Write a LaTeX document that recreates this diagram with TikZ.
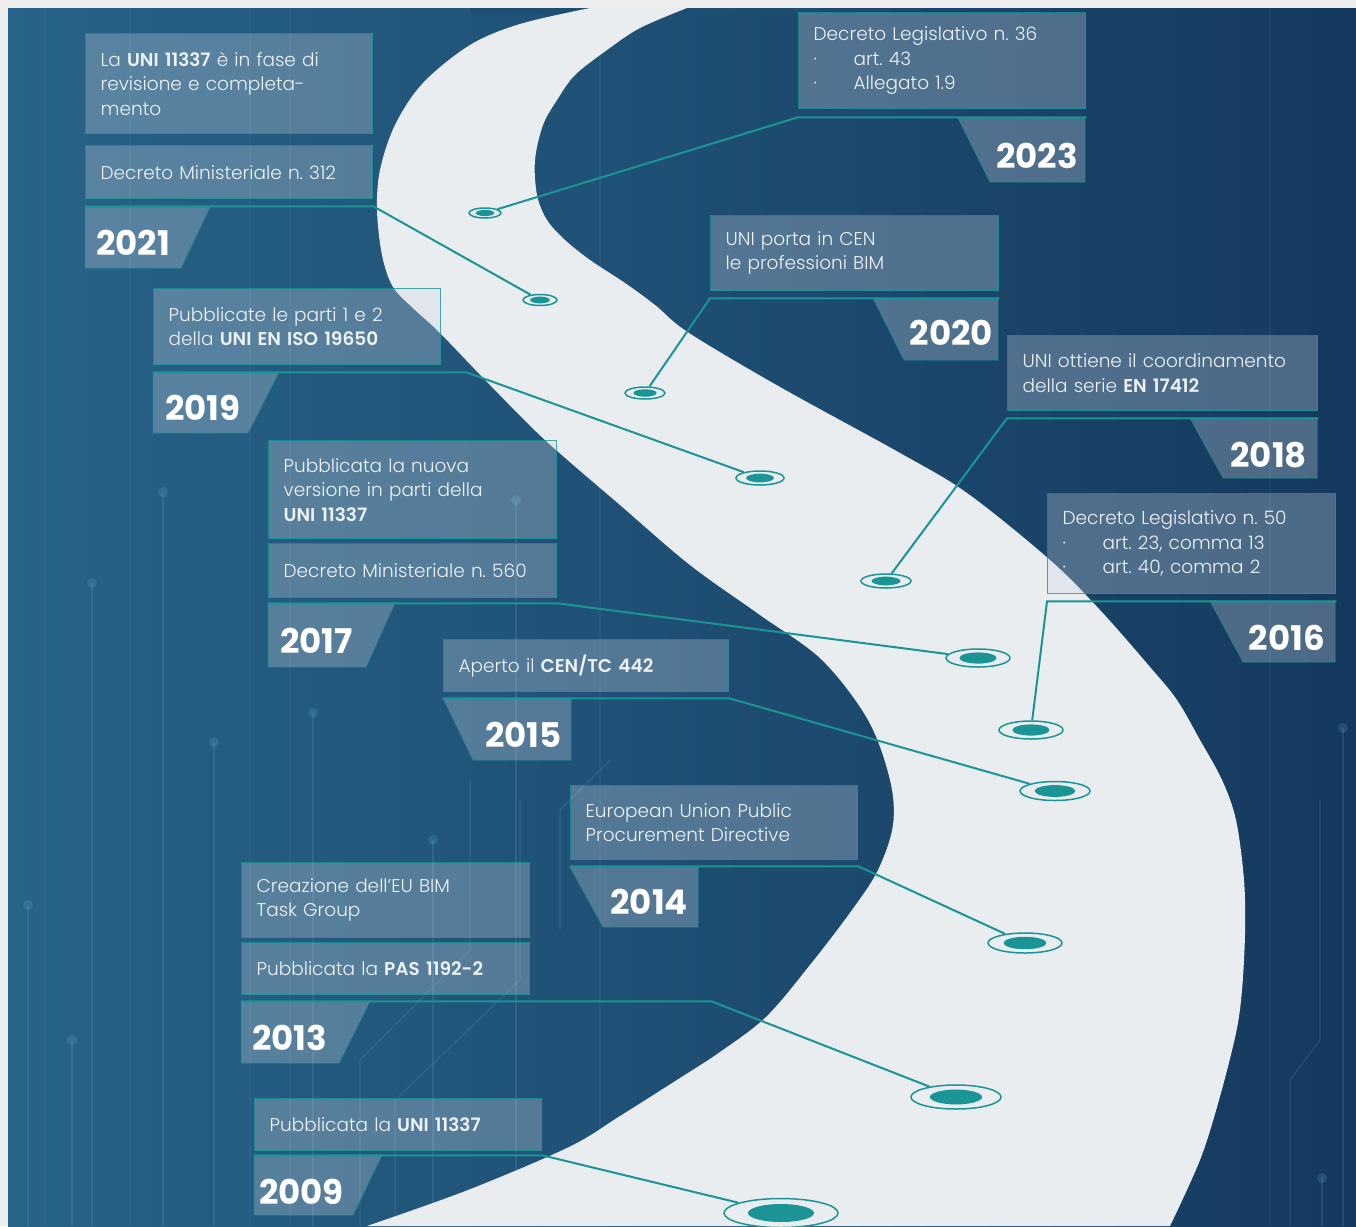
\documentclass[tikz,border=0pt]{standalone}
\usepackage{fontspec}
\setmainfont{Poppins}[UprightFont=* Light, BoldFont=* SemiBold]
\newfontfamily\yrfamily{Poppins}
\usetikzlibrary{shapes.geometric,calc}
\definecolor{bgL}{RGB}{40,99,136}
\definecolor{bgR}{RGB}{21,57,94}
\definecolor{bgT}{RGB}{30,78,114}
\definecolor{glowc}{RGB}{45,195,230}
\definecolor{road}{RGB}{233,237,240}
\definecolor{tealc}{RGB}{26,148,148}
\definecolor{boxfill}{RGB}{205,215,226}
\definecolor{txt}{RGB}{238,242,246}
\definecolor{framec}{RGB}{238,238,238}
\definecolor{circ}{RGB}{110,190,215}
\newcommand{\bodyfont}{\fontsize{18.5}{24.5}\selectfont}
\newcommand{\yearfont}{\yrfamily\bfseries\fontsize{34}{34}\selectfont}
\newcommand{\mkdot}[5]{\node[dotst, minimum width=#4pt, minimum height=#5pt] (#1) at (#2,#3) {};\fill[tealc] (#1.center) ellipse [x radius=#4*0.29pt, y radius=#5*0.31pt];}
\frenchspacing
\begin{document}
\begin{tikzpicture}[x=1pt,y=-1pt,
 box/.style={draw=tealc, line width=1.3pt, draw opacity=0.8, fill=boxfill, fill opacity=0.3, text opacity=1, text=txt, anchor=north west, inner xsep=15pt, inner ysep=0pt, align=left, font=\bodyfont},
 tab/.style={fill=boxfill, fill opacity=0.3, draw=tealc, draw opacity=0.55, line width=1pt},
 conn/.style={draw=tealc, line width=2pt},
 dotst/.style={ellipse, draw=tealc, line width=1.5pt, fill=road, inner sep=0pt},
 yr/.style={font=\yearfont, text=white, inner sep=0pt},
 cl/.style={draw=circ, draw opacity=0.16, line width=1.2pt},
 cd/.style={fill=circ, fill opacity=0.18}]
\useasboundingbox (0,0) rectangle (1356,1226);
\fill[framec] (0,0) rectangle (1356,1226);
\shade[left color=bgL, right color=bgR] (8,8) rectangle (1356,1226);
\shade[left color=bgT, middle color=glowc, right color=bgT] (470,8) rectangle (820,13);
% circuit decoration
\foreach \x in {45,130,250,290,600,1270}
  \draw[cl, draw opacity=0.07] (\x,8) -- (\x,1226);
\foreach \x/\y in {92/583, 163/492, 214/742, 313/713, 28/905, 72/1040, 516/500, 433/840, 1343/728, 1322/1178}{
  \draw[cl] (\x,\y) -- (\x,1226);
  \fill[cd] (\x,\y) circle[radius=5pt];}
\draw[cl] (360,1226) -- (360,1060) -- (470,950) -- (470,780);
\draw[cl] (610,760) -- (560,810) -- (560,930);
\draw[cl] (395,1226) -- (395,1100) -- (520,980) -- (520,800);
\draw[cl] (1290,1226) -- (1290,1080) -- (1320,1040) -- (1320,800);
% road
\fill[road] plot[smooth, tension=0.55] coordinates {(590,8) (520,24) (470,45) (423,83) (395,125) (380,170) (377,210) (382,255) (393,287) (415,310) (440,333) (490,385) (545,440) (620,505) (690,565) (760,615) (822,660) (868,720) (890,780) (893,825) (878,870) (852,910) (810,965) (766,1017) (720,1052) (680,1078) (620,1116) (569,1147) (468,1190) (367,1226)}
  -- plot[smooth, tension=0.55] coordinates {(1170,1226) (1200,1160) (1219,1100) (1236,1033) (1242,990) (1245,933) (1244,880) (1236,820) (1222,780) (1200,740) (1177,700) (1150,667) (1100,610) (1050,560) (967,493) (900,453) (780,387) (689,333) (655,305) (625,283) (590,260) (565,240) (547,220) (537,195) (535,160) (543,125) (557,100) (575,75) (607,50) (640,28) (687,8)} -- cycle;
% boxes
\node[box, text width=257pt, minimum height=100pt] (n21a) at (85,33) {La \textbf{UNI 11337} è in fase di\\revisione e completa-\\mento};
\node[box, text width=257pt, minimum height=53pt] (n21b) at (85,145) {Decreto Ministeriale n. 312};
\node[box, text width=257pt, minimum height=96pt] (n23) at (798,12) {Decreto Legislativo n. 36\\\makebox[40pt][l]{·}art. 43\\\makebox[40pt][l]{·}Allegato 1.9};
\node[box, text width=258pt, minimum height=75pt] (n20) at (710,215) {UNI porta in CEN\\le professioni BIM};
\node[box, text width=257pt, minimum height=76pt] (n19) at (153,288) {Pubblicate le parti 1 e 2\\della \textbf{UNI EN ISO 19650}};
\node[box, text width=280pt, minimum height=75pt] (n18) at (1007,335) {UNI ottiene il coordinamento\\della serie \textbf{EN 17412}};
\node[box, text width=258pt, minimum height=98pt] (n17a) at (268,440) {Pubblicata la nuova\\versione in parti della\\\textbf{UNI 11337}};
\node[box, text width=258pt, minimum height=54pt] (n17b) at (268,543) {Decreto Ministeriale n. 560};
\node[box, text width=258pt, minimum height=100pt] (n16) at (1047,493) {Decreto Legislativo n. 50\\\makebox[40pt][l]{·}art. 23, comma 13\\\makebox[40pt][l]{·}art. 40, comma 2};
\node[box, text width=255pt, minimum height=52pt] (n15) at (443,639) {Aperto il \textbf{CEN/TC 442}};
\node[box, text width=257pt, minimum height=74pt] (n14) at (570,785) {European Union Public\\Procurement Directive};
\node[box, text width=258pt, minimum height=75pt] (n13a) at (241,862) {Creazione dell'EU BIM\\Task Group};
\node[box, text width=258pt, minimum height=52pt] (n13b) at (241,942) {Pubblicata la \textbf{PAS 1192-2}};
\node[box, text width=257pt, minimum height=52pt] (n09) at (254,1098) {Pubblicata la \textbf{UNI 11337}};
% year tabs
\path[tab] (85,207) -- (210,207) -- (181,268) -- (85,268) -- cycle;
\path[tab] (958,118) -- (1085,118) -- (1085,182) -- (990,182) -- cycle;
\path[tab] (873,298) -- (998,298) -- (998,360) -- (904,360) -- cycle;
\path[tab] (153,372) -- (279,372) -- (248,433) -- (153,433) -- cycle;
\path[tab] (1190,418) -- (1317,418) -- (1317,478) -- (1223,478) -- cycle;
\path[tab] (268,603) -- (395,603) -- (366,667) -- (268,667) -- cycle;
\path[tab] (1210,601) -- (1335,601) -- (1335,662) -- (1243,662) -- cycle;
\path[tab] (443,698) -- (571,698) -- (571,760) -- (473,760) -- cycle;
\path[tab] (570,867) -- (698,867) -- (698,927) -- (603,927) -- cycle;
\path[tab] (241,1001) -- (370,1001) -- (339,1063) -- (241,1063) -- cycle;
\path[tab] (254,1155) -- (382,1155) -- (353,1215) -- (254,1215) -- cycle;
% dots
\mkdot{d23}{485}{213}{32}{10}
\mkdot{d21}{540}{300}{34}{11}
\mkdot{d20}{645}{393}{40}{12}
\mkdot{d19}{760}{478}{48}{14}
\mkdot{d18}{886}{581}{50}{14}
\mkdot{d17}{978}{658}{64}{18}
\mkdot{d16}{1031}{730}{64}{18}
\mkdot{d15}{1055}{791}{70}{19}
\mkdot{d14}{1025}{943}{74}{20}
\mkdot{d13}{956}{1097}{90}{24}
\mkdot{d09}{781}{1213}{114}{29}
% connectors
\draw[conn] ($(n21b.south west)+(0,7)$) -- ($(n21b.south east)+(0,7)$) -- (d21);
\draw[conn] ($(n23.south east)+(0,8)$) -- ($(n23.south west)+(0,8)$) -- (d23);
\draw[conn] ($(n20.south east)+(0,7)$) -- ($(n20.south west)+(0,7)$) -- (d20);
\draw[conn] ($(n19.south west)+(0,7)$) -- ($(n19.south east)+(0,7)$) -- ++(25,0) -- (d19);
\draw[conn] ($(n18.south east)+(0,7)$) -- ($(n18.south west)+(0,7)$) -- (d18);
\draw[conn] ($(n17b.south west)+(0,5)$) -- ($(n17b.south east)+(0,5)$) -- (d17);
\draw[conn] ($(n16.south east)+(0,7)$) -- ($(n16.south west)+(0,7)$) -- (d16);
\draw[conn] ($(n15.south west)+(0,6)$) -- ($(n15.south east)+(0,6)$) -- (d15);
\draw[conn] ($(n14.south west)+(0,6)$) -- ($(n14.south east)+(0,6)$) -- (d14);
\draw[conn] ($(n13b.south west)+(0,6)$) -- ($(n13b.south east)+(0,6)$) -- ++(181,0) -- (d13);
\draw[conn] ($(n09.south west)+(0,4)$) -- ($(n09.south east)+(0,4)$) -- (d09);
% years
\node[yr, anchor=west] (y21) at (96,243) {2021};
\node[yr, anchor=east] (y23) at (1078,156) {2023};
\node[yr, anchor=east] (y20) at (993,333) {2020};
\node[yr, anchor=west] (y19) at (165,408) {2019};
\node[yr, anchor=east] (y18) at (1307,455) {2018};
\node[yr, anchor=west] (y17) at (280,641) {2017};
\node[yr, anchor=east] (y16) at (1325,638) {2016};
\node[yr, anchor=east] (y15) at (562,735) {2015};
\node[yr, anchor=east] (y14) at (688,902) {2014};
\node[yr, anchor=west] (y13) at (252,1038) {2013};
\node[yr, anchor=west] (y09) at (259,1192) {2009};
\end{tikzpicture}
\end{document}
